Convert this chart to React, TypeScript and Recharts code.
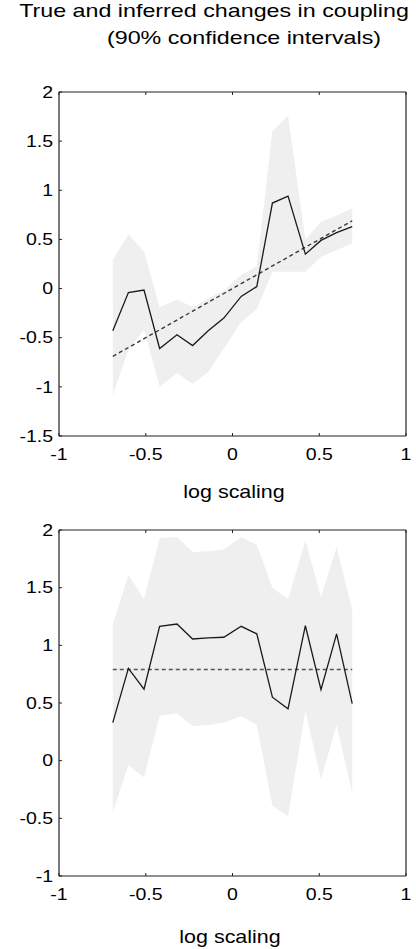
import React from 'react'
import { ComposedChart, Area, Line, XAxis, YAxis } from 'recharts'

// log scaling positions shared by both panels
const LOG_SCALING = [-0.69, -0.6, -0.51, -0.42, -0.32, -0.23, -0.14, -0.05, 0.05, 0.14, 0.23, 0.32, 0.42, 0.51, 0.6, 0.69]

// upper panel
const TRUE_A = [-0.69, -0.6, -0.51, -0.42, -0.32, -0.23, -0.14, -0.05, 0.05, 0.14, 0.23, 0.32, 0.42, 0.51, 0.6, 0.69]
const INFERRED_A = [-0.43, -0.04, -0.015, -0.61, -0.47, -0.58, -0.43, -0.3, -0.08, 0.02, 0.87, 0.94, 0.35, 0.49, 0.57, 0.63]
const LOW_A = [-1.09, -0.62, -0.42, -1.0, -0.86, -0.97, -0.85, -0.61, -0.34, -0.21, 0.17, 0.17, 0.17, 0.32, 0.39, 0.46]
const HIGH_A = [0.29, 0.55, 0.38, -0.19, -0.11, -0.19, -0.1, -0.02, 0.14, 0.23, 1.6, 1.76, 0.5, 0.68, 0.74, 0.82]

// lower panel
const TRUE_B = [0.79, 0.79, 0.79, 0.79, 0.79, 0.79, 0.79, 0.79, 0.79, 0.79, 0.79, 0.79, 0.79, 0.79, 0.79, 0.79]
const INFERRED_B = [0.33, 0.8, 0.62, 1.165, 1.185, 1.055, 1.065, 1.07, 1.165, 1.1, 0.55, 0.45, 1.17, 0.615, 1.1, 0.495]
const LOW_B = [-0.45, -0.04, -0.145, 0.39, 0.41, 0.3, 0.31, 0.33, 0.385, 0.31, -0.39, -0.48, 0.43, -0.16, 0.31, -0.28]
const HIGH_B = [1.18, 1.61, 1.4, 1.93, 1.94, 1.81, 1.815, 1.83, 1.94, 1.87, 1.5, 1.4, 1.91, 1.42, 1.85, 1.31]

const X_TICKS = [-1, -0.5, 0, 0.5, 1]
const Y_TICKS_A = [-1.5, -1, -0.5, 0, 0.5, 1, 1.5, 2]
const Y_TICKS_B = [-1, -0.5, 0, 0.5, 1, 1.5, 2]

const FONT = '"Liberation Sans", Arial, Helvetica, sans-serif'
const AXIS = '#222'
const TICK_LEN = 3
const X_GAP = 18
const Y_GAP = 6

function toRows(truth: number[], inferred: number[], low: number[], high: number[]) {
  return LOG_SCALING.map((x, i) => ({ x, truth: truth[i], inferred: inferred[i], band: [low[i], high[i]] }))
}

// the source figure is stretched sideways, so the labels are too
function Label({ x, y, anchor, value }: { x: number; y: number; anchor: string; value: any }) {
  return (
    <text
      transform={`translate(${x},${y}) scale(1.22,1)`}
      textAnchor={anchor}
      dy="0.36em"
      fontSize={16}
      fontFamily={FONT}
      fill="#000"
    >
      {value}
    </text>
  )
}

// ticks point into the plot, matlab style
function BottomTick(props: any) {
  const { x, y, payload } = props
  const axisY = y - X_GAP
  return (
    <g>
      <line x1={x} y1={axisY} x2={x} y2={axisY - TICK_LEN} stroke={AXIS} />
      <Label x={x} y={y} anchor="middle" value={payload.value} />
    </g>
  )
}

function LeftTick(props: any) {
  const { x, y, payload } = props
  const axisX = x + Y_GAP
  return (
    <g>
      <line x1={axisX} y1={y} x2={axisX + TICK_LEN} y2={y} stroke={AXIS} />
      <Label x={x} y={y} anchor="end" value={payload.value} />
    </g>
  )
}

function TopTick(props: any) {
  const { x, y } = props
  return <line x1={x} y1={y} x2={x} y2={y + TICK_LEN} stroke={AXIS} />
}

function RightTick(props: any) {
  const { x, y } = props
  return <line x1={x} y1={y} x2={x - TICK_LEN} y2={y} stroke={AXIS} />
}

interface PanelProps {
  rows: ReturnType<typeof toRows>
  height: number
  top: number
  bottom: number
  yDomain: [number, number]
  yTicks: number[]
  dashColor: string
}

function Panel({ rows, height, top, bottom, yDomain, yTicks, dashColor }: PanelProps) {
  const axisLine = { stroke: AXIS, strokeWidth: 1.2 }
  return (
    <ComposedChart width={416} height={height} data={rows} margin={{ top: top - 1, right: 9, bottom, left: 19 }}>
      <XAxis
        dataKey="x"
        type="number"
        domain={[-1, 1]}
        ticks={X_TICKS}
        height={30}
        tickSize={0}
        tickMargin={X_GAP}
        tickLine={false}
        axisLine={axisLine}
        tick={<BottomTick />}
        interval={0}
      />
      <XAxis
        xAxisId="top"
        dataKey="x"
        orientation="top"
        type="number"
        domain={[-1, 1]}
        ticks={X_TICKS}
        height={1}
        tickSize={0}
        tickMargin={0}
        tickLine={false}
        axisLine={axisLine}
        tick={<TopTick />}
        interval={0}
      />
      <YAxis
        type="number"
        domain={yDomain}
        ticks={yTicks}
        width={40}
        tickSize={0}
        tickMargin={Y_GAP}
        tickLine={false}
        axisLine={axisLine}
        tick={<LeftTick />}
        interval={0}
        allowDataOverflow
      />
      <YAxis
        yAxisId="right"
        orientation="right"
        type="number"
        domain={yDomain}
        ticks={yTicks}
        width={1}
        tickSize={0}
        tickMargin={0}
        tickLine={false}
        axisLine={axisLine}
        tick={<RightTick />}
        interval={0}
      />
      <Area
        dataKey="band"
        stroke="none"
        fill="#efefef"
        fillOpacity={1}
        isAnimationActive={false}
      />
      <Line
        dataKey="truth"
        stroke={dashColor}
        strokeWidth={1.4}
        strokeDasharray="4 3"
        dot={false}
        isAnimationActive={false}
      />
      <Line
        dataKey="inferred"
        stroke="#1a1a1a"
        strokeWidth={1.3}
        dot={false}
        isAnimationActive={false}
      />
    </ComposedChart>
  )
}

function Caption({ x, y, size, stretch, children }: { x: number; y: number; size: number; stretch: number; children: React.ReactNode }) {
  return (
    <text
      transform={`translate(${x},${y}) scale(${stretch},1)`}
      textAnchor="middle"
      fontSize={size}
      fontFamily={FONT}
      fill="#000"
    >
      {children}
    </text>
  )
}

export default function App() {
  const rowsA = toRows(TRUE_A, INFERRED_A, LOW_A, HIGH_A)
  const rowsB = toRows(TRUE_B, INFERRED_B, LOW_B, HIGH_B)

  return (
    <div style={{ position: 'absolute', left: 0, top: 0, width: 416, height: 949, background: '#fff' }}>
      <div style={{ position: 'absolute', left: 0, top: 0 }}>
        <Panel rows={rowsA} height={510} top={92} bottom={44} yDomain={[-1.5, 2]} yTicks={Y_TICKS_A} dashColor="#3a3a3a" />
      </div>
      <div style={{ position: 'absolute', left: 0, top: 510 }}>
        <Panel rows={rowsB} height={439} top={20} bottom={43} yDomain={[-1, 2]} yTicks={Y_TICKS_B} dashColor="#555" />
      </div>
      <svg width={416} height={949} style={{ position: 'absolute', left: 0, top: 0, pointerEvents: 'none' }}>
        <Caption x={214} y={17} size={17.5} stretch={1.33}>True and inferred changes in coupling</Caption>
        <Caption x={244} y={44} size={17.5} stretch={1.33}>(90% confidence intervals)</Caption>
        <Caption x={234} y={498} size={19} stretch={1.13}>log scaling</Caption>
        <Caption x={230} y={943} size={19} stretch={1.13}>log scaling</Caption>
      </svg>
    </div>
  )
}
